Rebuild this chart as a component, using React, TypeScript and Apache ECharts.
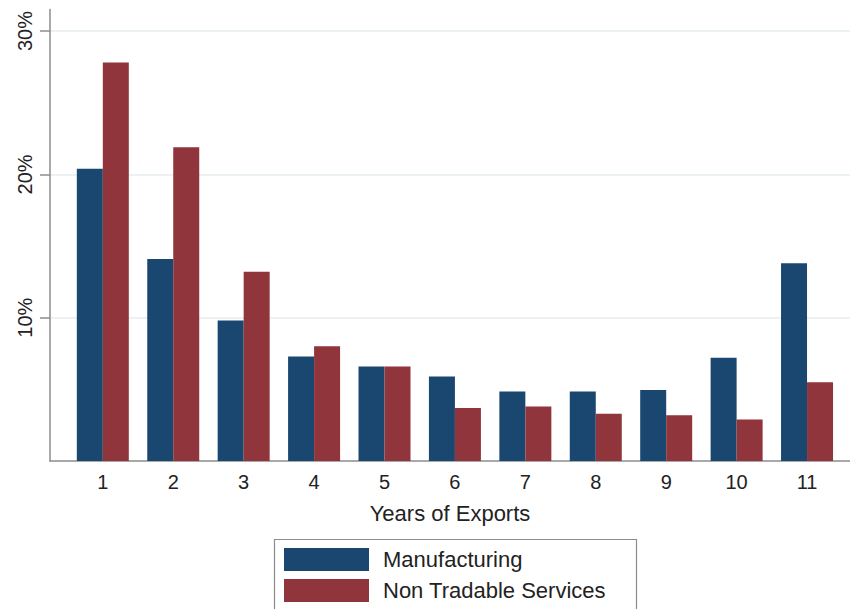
import React, { useEffect, useRef } from "react";
import * as echarts from "echarts";

const categories = ["1", "2", "3", "4", "5", "6", "7", "8", "9", "10", "11"];
const manufacturing = [20.4, 14.1, 9.8, 7.3, 6.6, 5.9, 4.85, 4.85, 4.95, 7.2, 13.8];
const nonTradable = [27.8, 21.9, 13.2, 8.0, 6.6, 3.7, 3.8, 3.3, 3.2, 2.9, 5.5];
const yTicks = [10, 20, 30];
const seriesNames = ["Manufacturing", "Non Tradable Services"];
const xTitle = "Years of Exports";

const FONT = "'Liberation Sans', Arial, Helvetica, sans-serif";

export default function App() {
  const ref = useRef<HTMLDivElement>(null);
  useEffect(() => {
    if (!ref.current) return;
    const chart = echarts.init(ref.current, undefined, { renderer: "svg" });
    const xVals = categories.map((_, i) => i + 1);
    chart.setOption({
      animation: false,
      backgroundColor: "#ffffff",
      textStyle: { fontFamily: FONT },
      grid: { left: 50, right: 0, top: 9.6, bottom: 148, containLabel: false },
      xAxis: {
        type: "value",
        min: 0.25,
        max: 11.61,
        name: xTitle,
        nameLocation: "middle",
        nameGap: 41,
        nameTextStyle: { fontSize: 22, color: "#222", fontFamily: FONT },
        axisLine: { show: true, lineStyle: { color: "#8c8c8c", width: 1.5 } },
        axisTick: { show: false },
        splitLine: { show: false },
        axisLabel: {
          customValues: xVals,
          fontSize: 20,
          color: "#222",
          margin: 11,
          fontFamily: FONT,
          formatter: (v: number) => categories[Math.round(v) - 1] ?? "",
        },
      },
      yAxis: {
        type: "value",
        min: 0,
        max: 31.5,
        axisLine: { show: true, lineStyle: { color: "#8c8c8c", width: 1.5 } },
        axisTick: { show: true, customValues: yTicks, length: 10, lineStyle: { color: "#8c8c8c", width: 1.5 } },
        splitLine: { show: false },
        axisLabel: {
          customValues: yTicks,
          rotate: 90,
          fontSize: 20,
          color: "#222",
          margin: 15,
          fontFamily: FONT,
          formatter: (v: number) => v + "%",
        },
      },
      legend: {
        data: seriesNames,
        orient: "vertical",
        left: 284,
        top: 548,
        padding: 0,
        itemWidth: 85,
        itemHeight: 23,
        itemGap: 8,
        icon: "rect",
        selectedMode: false,
        textStyle: { fontSize: 22, color: "#222", fontFamily: FONT, padding: [0, 0, 0, 9] },
      },
      graphic: [
        {
          type: "rect",
          z: -1,
          shape: { x: 274.5, y: 539.5, width: 362, height: 80 },
          style: { fill: "#ffffff", stroke: "#8c8c8c", lineWidth: 1.2 },
        },
      ],
      series: [
        {
          type: "line",
          name: "grid",
          data: [],
          z: 0,
          silent: true,
          markLine: {
            silent: true,
            z: 0,
            symbol: ["none", "none"],
            label: { show: false },
            lineStyle: { color: "#e6eef1", width: 1.5, type: "solid" },
            data: yTicks.map((v) => ({ yAxis: v })),
          },
        },
        {
          type: "bar",
          name: seriesNames[0],
          data: manufacturing.map((v, i) => [xVals[i], v]),
          barWidth: 26,
          barGap: "0%",
          z: 3,
          itemStyle: { color: "#1a476f" },
        },
        {
          type: "bar",
          name: seriesNames[1],
          data: nonTradable.map((v, i) => [xVals[i], v]),
          barWidth: 26,
          barGap: "0%",
          z: 3,
          itemStyle: { color: "#90353b" },
        },
      ],
    });
    return () => chart.dispose();
  }, []);
  return (
    <div
      ref={ref}
      style={{ position: "absolute", left: 0, top: 0, width: 850, height: 609 }}
    />
  );
}
